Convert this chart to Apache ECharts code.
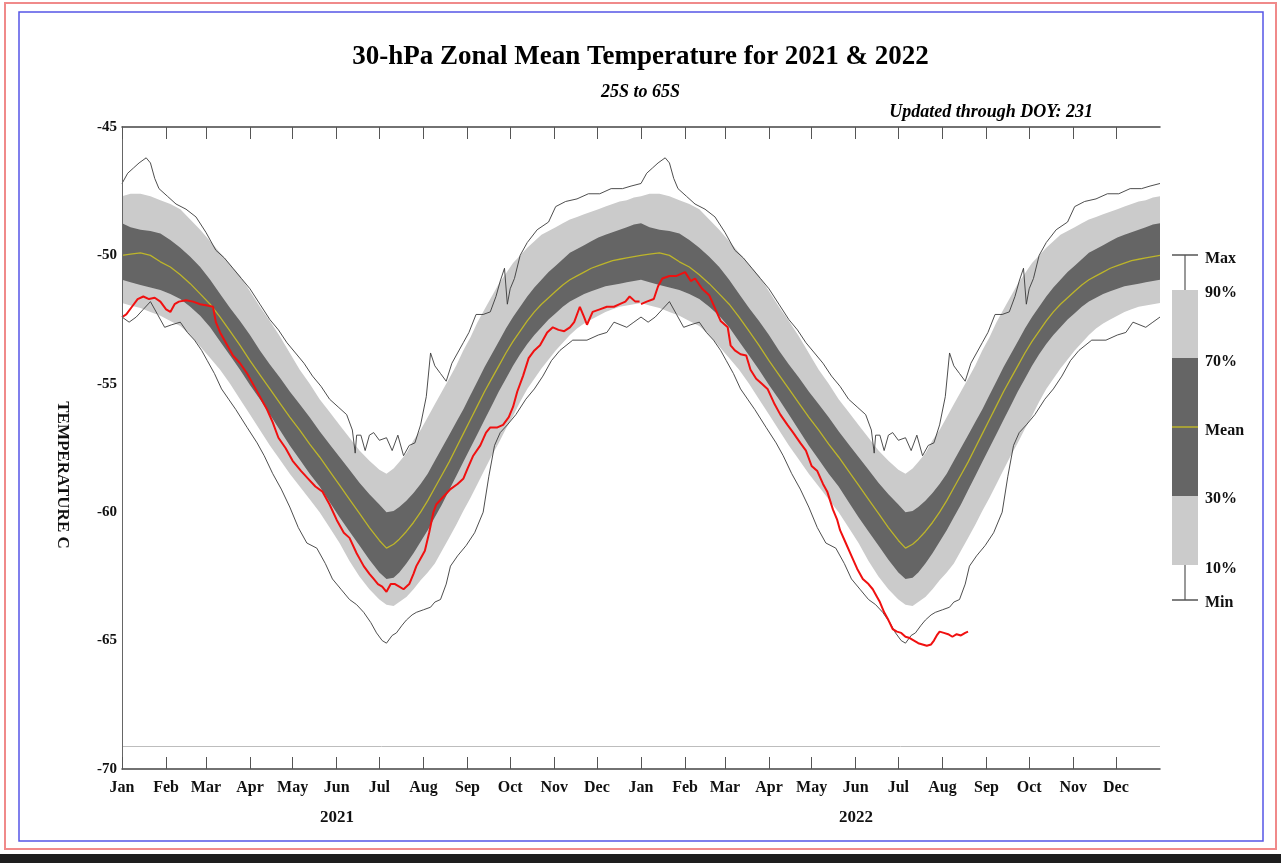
<!DOCTYPE html>
<html><head><meta charset="utf-8">
<script src="https://cdn.jsdelivr.net/npm/echarts@6/dist/echarts.min.js"></script>
<style>html,body{margin:0;padding:0;background:#fff}#c{width:1281px;height:863px}</style>
</head><body><div id="c"></div>
<script>
// ---------------- data ----------------
const monthLabels = ['Jan','Feb','Mar','Apr','May','Jun','Jul','Aug','Sep','Oct','Nov','Dec'];
const monthStartDays = [0,31,59,90,120,151,181,212,243,273,304,334];
const yearLabels = ['2021','2022'];
const legendLabels = ['Max','90%','70%','Mean','30%','10%','Min'];
const doyText = 'Updated through DOY: 231';

// climatology, [day of year (0-based), deg C]
const climMax = [[0,-47.2],[4,-46.8],[8,-46.6],[12,-46.4],[17,-46.2],[20,-46.4],[23,-47.0],[26,-47.4],[32,-47.7],[38,-48.0],[45,-48.2],[52,-48.5],[59,-49.1],[66,-49.8],[72,-50.1],[78,-50.5],[84,-50.9],[90,-51.3],[97,-51.9],[104,-52.5],[110,-52.9],[116,-53.4],[122,-53.8],[128,-54.2],[134,-54.7],[140,-55.1],[146,-55.6],[152,-55.9],[158,-56.2],[162,-56.8],[164,-57.7],[165,-57.0],[168,-57.0],[171,-57.6],[174,-57.0],[177,-56.9],[181,-57.2],[186,-57.1],[190,-57.6],[194,-57.0],[198,-57.8],[202,-57.4],[206,-57.3],[210,-56.6],[214,-55.5],[217,-53.8],[220,-54.3],[224,-54.6],[228,-54.9],[232,-54.2],[236,-53.8],[240,-53.4],[244,-53.0],[249,-52.3],[254,-52.3],[259,-52.2],[263,-51.6],[266,-51.0],[269,-50.5],[271,-51.9],[273,-51.3],[276,-50.9],[280,-50.0],[285,-49.5],[292,-49.0],[300,-48.7],[305,-48.1],[312,-47.9],[320,-47.8],[328,-47.6],[336,-47.6],[344,-47.4],[352,-47.4],[358,-47.3],[365,-47.2]];
const clim90 = [[0,-47.7],[6,-47.6],[13,-47.6],[20,-47.7],[27,-47.85],[34,-48.0],[41,-48.2],[48,-48.6],[55,-49.0],[62,-49.45],[69,-49.9],[76,-50.35],[83,-50.8],[90,-51.4],[97,-52.0],[104,-52.55],[111,-53.15],[118,-53.8],[125,-54.45],[132,-55.0],[139,-55.6],[146,-56.1],[153,-56.6],[160,-57.1],[167,-57.6],[174,-58.0],[181,-58.35],[186,-58.5],[191,-58.3],[195,-58.05],[200,-57.7],[205,-57.2],[210,-56.8],[215,-56.3],[220,-55.8],[225,-55.3],[230,-54.8],[235,-54.3],[240,-53.7],[245,-53.2],[250,-52.6],[255,-52.1],[260,-51.6],[265,-51.1],[270,-50.7],[275,-50.3],[280,-50.0],[285,-49.7],[290,-49.45],[295,-49.2],[300,-49.05],[305,-48.9],[310,-48.75],[315,-48.6],[320,-48.5],[325,-48.4],[330,-48.3],[335,-48.2],[340,-48.1],[345,-48.0],[350,-47.9],[355,-47.85],[360,-47.75],[365,-47.7]];
const clim70 = [[0,-48.75],[6,-48.9],[13,-49.0],[20,-49.05],[27,-49.15],[34,-49.4],[41,-49.7],[48,-50.05],[55,-50.45],[62,-50.95],[69,-51.5],[76,-52.05],[83,-52.55],[90,-53.1],[97,-53.7],[104,-54.25],[111,-54.75],[118,-55.3],[125,-55.8],[132,-56.3],[139,-56.85],[146,-57.35],[153,-57.85],[160,-58.35],[167,-58.85],[174,-59.3],[181,-59.7],[186,-60.0],[191,-59.95],[195,-59.8],[200,-59.55],[205,-59.25],[210,-58.9],[215,-58.5],[220,-58.0],[225,-57.5],[230,-57.0],[235,-56.5],[240,-56.0],[245,-55.45],[250,-54.9],[255,-54.35],[260,-53.85],[265,-53.35],[270,-52.85],[275,-52.4],[280,-52.0],[285,-51.6],[290,-51.25],[295,-50.95],[300,-50.65],[305,-50.4],[310,-50.15],[315,-49.9],[320,-49.75],[325,-49.6],[330,-49.45],[335,-49.3],[340,-49.2],[345,-49.1],[350,-49.0],[355,-48.9],[360,-48.8],[365,-48.75]];
const climMean = [[0,-50.0],[6,-49.95],[13,-49.9],[20,-50.0],[27,-50.25],[34,-50.45],[41,-50.75],[48,-51.1],[55,-51.5],[62,-51.9],[69,-52.4],[76,-52.95],[83,-53.5],[90,-54.1],[97,-54.65],[104,-55.2],[111,-55.75],[118,-56.3],[125,-56.8],[132,-57.35],[139,-57.85],[146,-58.4],[153,-58.95],[160,-59.5],[167,-60.05],[174,-60.6],[181,-61.1],[186,-61.4],[191,-61.25],[195,-61.05],[200,-60.75],[205,-60.4],[210,-60.0],[215,-59.55],[220,-59.05],[225,-58.55],[230,-58.05],[235,-57.5],[240,-56.95],[245,-56.4],[250,-55.85],[255,-55.3],[260,-54.8],[265,-54.3],[270,-53.8],[275,-53.35],[280,-52.95],[285,-52.55],[290,-52.2],[295,-51.9],[300,-51.65],[305,-51.4],[310,-51.15],[315,-50.95],[320,-50.8],[325,-50.65],[330,-50.5],[335,-50.4],[340,-50.3],[345,-50.2],[350,-50.15],[355,-50.1],[360,-50.05],[365,-50.0]];
const clim30 = [[0,-50.95],[6,-51.05],[13,-51.15],[20,-51.25],[27,-51.35],[34,-51.5],[41,-51.7],[48,-52.0],[55,-52.35],[62,-52.8],[69,-53.35],[76,-53.9],[83,-54.45],[90,-55.05],[97,-55.6],[104,-56.2],[111,-56.8],[118,-57.4],[125,-57.95],[132,-58.5],[139,-59.0],[146,-59.6],[153,-60.2],[160,-60.75],[167,-61.3],[174,-61.85],[181,-62.35],[186,-62.6],[191,-62.55],[195,-62.35],[200,-62.0],[205,-61.6],[210,-61.15],[215,-60.7],[220,-60.2],[225,-59.7],[230,-59.15],[235,-58.6],[240,-58.05],[245,-57.5],[250,-56.95],[255,-56.4],[260,-55.85],[265,-55.3],[270,-54.8],[275,-54.3],[280,-53.85],[285,-53.45],[290,-53.1],[295,-52.8],[300,-52.5],[305,-52.25],[310,-52.0],[315,-51.8],[320,-51.65],[325,-51.5],[330,-51.4],[335,-51.3],[340,-51.2],[345,-51.15],[350,-51.1],[355,-51.05],[360,-51.0],[365,-50.95]];
const clim10 = [[0,-51.85],[6,-51.95],[13,-52.05],[20,-52.2],[27,-52.35],[34,-52.55],[41,-52.75],[48,-53.1],[55,-53.55],[62,-54.0],[69,-54.45],[76,-55.0],[83,-55.6],[90,-56.2],[97,-56.8],[104,-57.4],[111,-57.95],[118,-58.5],[125,-59.0],[132,-59.5],[139,-60.0],[146,-60.6],[153,-61.2],[160,-61.9],[167,-62.5],[174,-63.0],[181,-63.4],[186,-63.6],[191,-63.65],[195,-63.5],[200,-63.3],[205,-63.0],[210,-62.65],[215,-62.35],[220,-62.0],[225,-61.5],[230,-61.0],[235,-60.5],[240,-59.95],[245,-59.45],[250,-58.9],[255,-58.35],[260,-57.8],[265,-57.3],[270,-56.75],[275,-56.25],[280,-55.7],[285,-55.2],[290,-54.8],[295,-54.4],[300,-54.05],[305,-53.7],[310,-53.4],[315,-53.1],[320,-52.85],[325,-52.65],[330,-52.5],[335,-52.35],[340,-52.2],[345,-52.1],[350,-52.0],[355,-51.95],[360,-51.9],[365,-51.85]];
const climMin = [[0,-52.4],[5,-52.6],[10,-52.4],[15,-52.1],[20,-51.8],[25,-52.3],[30,-52.8],[35,-52.7],[41,-52.6],[46,-53.0],[51,-53.3],[56,-53.7],[60,-54.1],[65,-54.6],[70,-55.2],[75,-55.6],[80,-56.0],[88,-56.7],[95,-57.3],[100,-57.8],[106,-58.5],[112,-59.1],[118,-59.8],[124,-60.6],[130,-61.2],[137,-61.4],[143,-62.0],[148,-62.6],[154,-63.0],[160,-63.4],[165,-63.6],[170,-63.9],[175,-64.3],[179,-64.7],[183,-65.0],[186,-65.1],[190,-64.8],[193,-64.7],[197,-64.4],[200,-64.2],[204,-64.0],[207,-63.9],[212,-63.8],[217,-63.7],[220,-63.5],[224,-63.4],[228,-62.8],[231,-62.1],[236,-61.7],[242,-61.3],[248,-60.8],[254,-60.0],[258,-58.6],[262,-57.4],[266,-56.9],[271,-56.6],[277,-56.2],[284,-55.6],[290,-55.2],[296,-54.7],[302,-54.1],[308,-53.7],[317,-53.3],[327,-53.3],[335,-53.1],[341,-53.0],[346,-52.6],[355,-52.8],[360,-52.6],[365,-52.4]];

// observed zonal mean, [day of year (0-based), deg C]
const obs2021 = [[0,-52.4],[3,-52.3],[7,-52.0],[11,-51.7],[15,-51.6],[19,-51.7],[23,-51.65],[27,-51.8],[31,-52.1],[34,-52.2],[37,-51.9],[40,-51.8],[45,-51.75],[50,-51.8],[55,-51.9],[60,-51.95],[64,-52.0],[66,-52.6],[69,-53.0],[74,-53.5],[78,-53.9],[83,-54.2],[88,-54.6],[93,-55.1],[97,-55.5],[102,-56.0],[106,-56.5],[110,-57.1],[115,-57.5],[120,-58.0],[126,-58.4],[131,-58.7],[136,-59.0],[141,-59.2],[146,-59.7],[151,-60.3],[156,-60.8],[160,-61.0],[165,-61.6],[170,-62.1],[174,-62.4],[177,-62.6],[180,-62.8],[183,-62.9],[186,-63.1],[189,-62.8],[192,-62.8],[195,-62.9],[198,-63.0],[202,-62.8],[205,-62.4],[207,-62.1],[210,-61.8],[213,-61.5],[216,-60.8],[219,-60.0],[221,-59.7],[226,-59.4],[231,-59.1],[236,-58.9],[240,-58.7],[243,-58.3],[247,-57.8],[252,-57.4],[256,-56.9],[259,-56.7],[264,-56.7],[268,-56.6],[272,-56.3],[275,-55.9],[278,-55.3],[282,-54.7],[286,-54.0],[290,-53.7],[294,-53.5],[299,-53.0],[303,-52.8],[307,-52.9],[311,-52.95],[315,-52.8],[318,-52.6],[322,-52.0],[325,-52.4],[327,-52.7],[331,-52.2],[336,-52.1],[341,-52.0],[346,-52.0],[350,-51.9],[354,-51.8],[357,-51.6],[361,-51.8],[364,-51.8]];
const obs2022 = [[0,-51.9],[4,-51.8],[9,-51.7],[12,-51.2],[15,-50.9],[20,-50.8],[25,-50.8],[31,-50.65],[35,-51.0],[38,-50.9],[43,-51.3],[48,-51.55],[52,-52.05],[56,-52.55],[61,-52.8],[63,-53.5],[66,-53.7],[70,-53.85],[74,-53.9],[77,-54.45],[81,-54.8],[85,-55.0],[89,-55.2],[94,-55.8],[98,-56.2],[103,-56.6],[107,-56.9],[112,-57.3],[116,-57.6],[120,-58.2],[124,-58.4],[128,-58.9],[131,-59.2],[135,-59.9],[138,-60.3],[140,-60.7],[144,-61.2],[148,-61.7],[152,-62.2],[156,-62.6],[160,-62.8],[163,-63.0],[166,-63.3],[168,-63.5],[171,-63.9],[174,-64.2],[177,-64.55],[180,-64.65],[183,-64.7],[186,-64.85],[189,-64.9],[192,-65.0],[195,-65.1],[198,-65.15],[201,-65.2],[204,-65.15],[206,-65.0],[208,-64.8],[210,-64.65],[213,-64.7],[216,-64.75],[219,-64.85],[222,-64.75],[225,-64.8],[228,-64.7],[230,-64.65]];

// ---------------- build ----------------
const YEAR = 365;
const twoYears = a => a.map(p => [p[0], p[1]]).concat(a.map(p => [p[0] + YEAR, p[1]]));
const shift = (a, k) => a.map(p => [p[0] + k * YEAR, p[1]]);
const tickDays = monthStartDays.concat(monthStartDays.map(d => d + YEAR));
const SERIF = '"Liberation Serif","Times New Roman",serif';

const area = (name, data, color, z) => ({
  name, type: 'line', data: twoYears(data), symbol: 'none', silent: true, z,
  lineStyle: { width: 0 }, areaStyle: { color, opacity: 1, origin: 'start' }
});
const line = (name, data, color, width, z) => ({
  name, type: 'line', data, symbol: 'none', silent: true, z,
  lineStyle: { color, width }
});

const chart = echarts.init(document.getElementById('c'), null, { renderer: 'canvas' });

const legendX = 1172, legendW = 26, legendTextX = 1205;
const legendLabelY = [259, 293, 362, 431, 499, 569, 603];

const option = {
  animation: false,
  backgroundColor: '#fff',
  title: [
    { text: '30-hPa Zonal Mean Temperature for 2021 & 2022', left: 'center', top: 44, padding: 0,
      textStyle: { fontFamily: SERIF, fontWeight: 'bold', fontSize: 27, color: '#000' } },
    { text: '25S to 65S', left: 'center', top: 83, padding: 0,
      textStyle: { fontFamily: SERIF, fontWeight: 'bold', fontStyle: 'italic', fontSize: 18, color: '#000' } },
    { text: doyText, right: 188, top: 103, padding: 0,
      textStyle: { fontFamily: SERIF, fontWeight: 'bold', fontStyle: 'italic', fontSize: 18, color: '#000' } }
  ],
  grid: { left: 122, right: 121, top: 127, bottom: 94 },
  xAxis: [
    { type: 'value', min: 0, max: 2 * YEAR, position: 'bottom', z: 10,
      axisLine: { show: true, lineStyle: { color: '#444', width: 1.5 } },
      axisTick: { show: true, inside: true, length: 12, customValues: tickDays, lineStyle: { color: '#555', width: 1 } },
      axisLabel: { show: true, customValues: tickDays, margin: 11, color: '#111',
        fontFamily: SERIF, fontWeight: 'bold', fontSize: 16,
        formatter: v => monthLabels[monthStartDays.indexOf(((v % YEAR) + YEAR) % YEAR)] || '' },
      splitLine: { show: false } },
    { type: 'value', min: 0, max: 2 * YEAR, position: 'top', z: 10,
      axisLine: { show: true, lineStyle: { color: '#444', width: 1.5 } },
      axisTick: { show: true, inside: true, length: 12, customValues: tickDays, lineStyle: { color: '#555', width: 1 } },
      axisLabel: { show: false }, splitLine: { show: false } }
  ],
  yAxis: [
    { type: 'value', min: -70, max: -45, interval: 5, z: 10,
      axisLine: { show: true, lineStyle: { color: '#bbb', width: 1 } },
      axisTick: { show: false },
      axisLabel: { margin: 5, color: '#111', fontFamily: SERIF, fontWeight: 'bold', fontSize: 15 },
      splitLine: { show: false } },
    { type: 'value', min: -70, max: -45, interval: 5, position: 'right', z: 10,
      axisLine: { show: true, lineStyle: { color: '#666', width: 1 } },
      axisTick: { show: false }, axisLabel: { show: false }, splitLine: { show: false } }
  ],
  series: [
    area('90%', clim90, '#cbcbcb', 2),
    area('70%', clim70, '#656565', 3),
    area('30%', clim30, '#cbcbcb', 4),
    area('10%', clim10, '#ffffff', 5),
    Object.assign(line('Max', twoYears(climMax), '#3a3a3a', 0.9, 6), {
      markLine: { silent: true, symbol: ['none', 'none'], label: { show: false }, z: 9,
        lineStyle: { color: '#bdbdbd', width: 1, type: 'solid' }, data: [{ yAxis: -69.1 }] } }),
    line('Min', twoYears(climMin), '#3a3a3a', 0.9, 6),
    line('Mean', twoYears(climMean), '#bdb52a', 1.3, 7),
    line('2021', shift(obs2021, 0), '#f01010', 2, 8),
    line('2022', shift(obs2022, 1), '#f01010', 2, 8)
  ],
  graphic: { elements: [
    // page frames
    { type: 'rect', z: 50, silent: true, shape: { x: 5, y: 3, width: 1271, height: 846 },
      style: { fill: 'rgba(0,0,0,0)', stroke: '#f08a8a', lineWidth: 2 } },
    { type: 'rect', z: 50, silent: true, shape: { x: 19, y: 12, width: 1244, height: 829 },
      style: { fill: 'rgba(0,0,0,0)', stroke: '#5555e6', lineWidth: 1.5 } },
    { type: 'rect', z: 50, silent: true, shape: { x: 0, y: 854, width: 1281, height: 9 },
      style: { fill: '#1e1e1e' } },
    // year labels
    { type: 'text', z: 50, x: 337, y: 818, style: { text: yearLabels[0], font: 'bold 17px ' + SERIF, fill: '#111',
      textAlign: 'center', textVerticalAlign: 'middle', align: 'center', verticalAlign: 'middle' } },
    { type: 'text', z: 50, x: 856, y: 818, style: { text: yearLabels[1], font: 'bold 17px ' + SERIF, fill: '#111',
      textAlign: 'center', textVerticalAlign: 'middle', align: 'center', verticalAlign: 'middle' } },
    // y axis name
    { type: 'text', z: 50, x: 62, y: 475, rotation: -Math.PI / 2,
      style: { text: 'TEMPERATURE C', font: 'bold 17px ' + SERIF, fill: '#111',
        textAlign: 'center', textVerticalAlign: 'middle', align: 'center', verticalAlign: 'middle' } },
    // legend box
    { type: 'line', z: 50, shape: { x1: legendX + legendW / 2, y1: 255, x2: legendX + legendW / 2, y2: 600 },
      style: { stroke: '#999', lineWidth: 2 } },
    { type: 'line', z: 51, shape: { x1: legendX, y1: 255, x2: legendX + legendW, y2: 255 }, style: { stroke: '#555', lineWidth: 1.5 } },
    { type: 'line', z: 51, shape: { x1: legendX, y1: 600, x2: legendX + legendW, y2: 600 }, style: { stroke: '#555', lineWidth: 1.5 } },
    { type: 'rect', z: 52, shape: { x: legendX, y: 290, width: legendW, height: 275 }, style: { fill: '#cbcbcb' } },
    { type: 'rect', z: 53, shape: { x: legendX, y: 358, width: legendW, height: 138 }, style: { fill: '#656565' } },
    { type: 'line', z: 54, shape: { x1: legendX, y1: 427, x2: legendX + legendW, y2: 427 }, style: { stroke: '#bdb52a', lineWidth: 1.5 } }
  ].concat(legendLabels.map((t, i) => ({
    type: 'text', z: 55, x: legendTextX, y: legendLabelY[i],
    style: { text: t, font: 'bold 16px ' + SERIF, fill: '#111',
      textAlign: 'left', textVerticalAlign: 'middle', align: 'left', verticalAlign: 'middle' }
  }))) }
};
chart.setOption(option);
</script></body></html>
